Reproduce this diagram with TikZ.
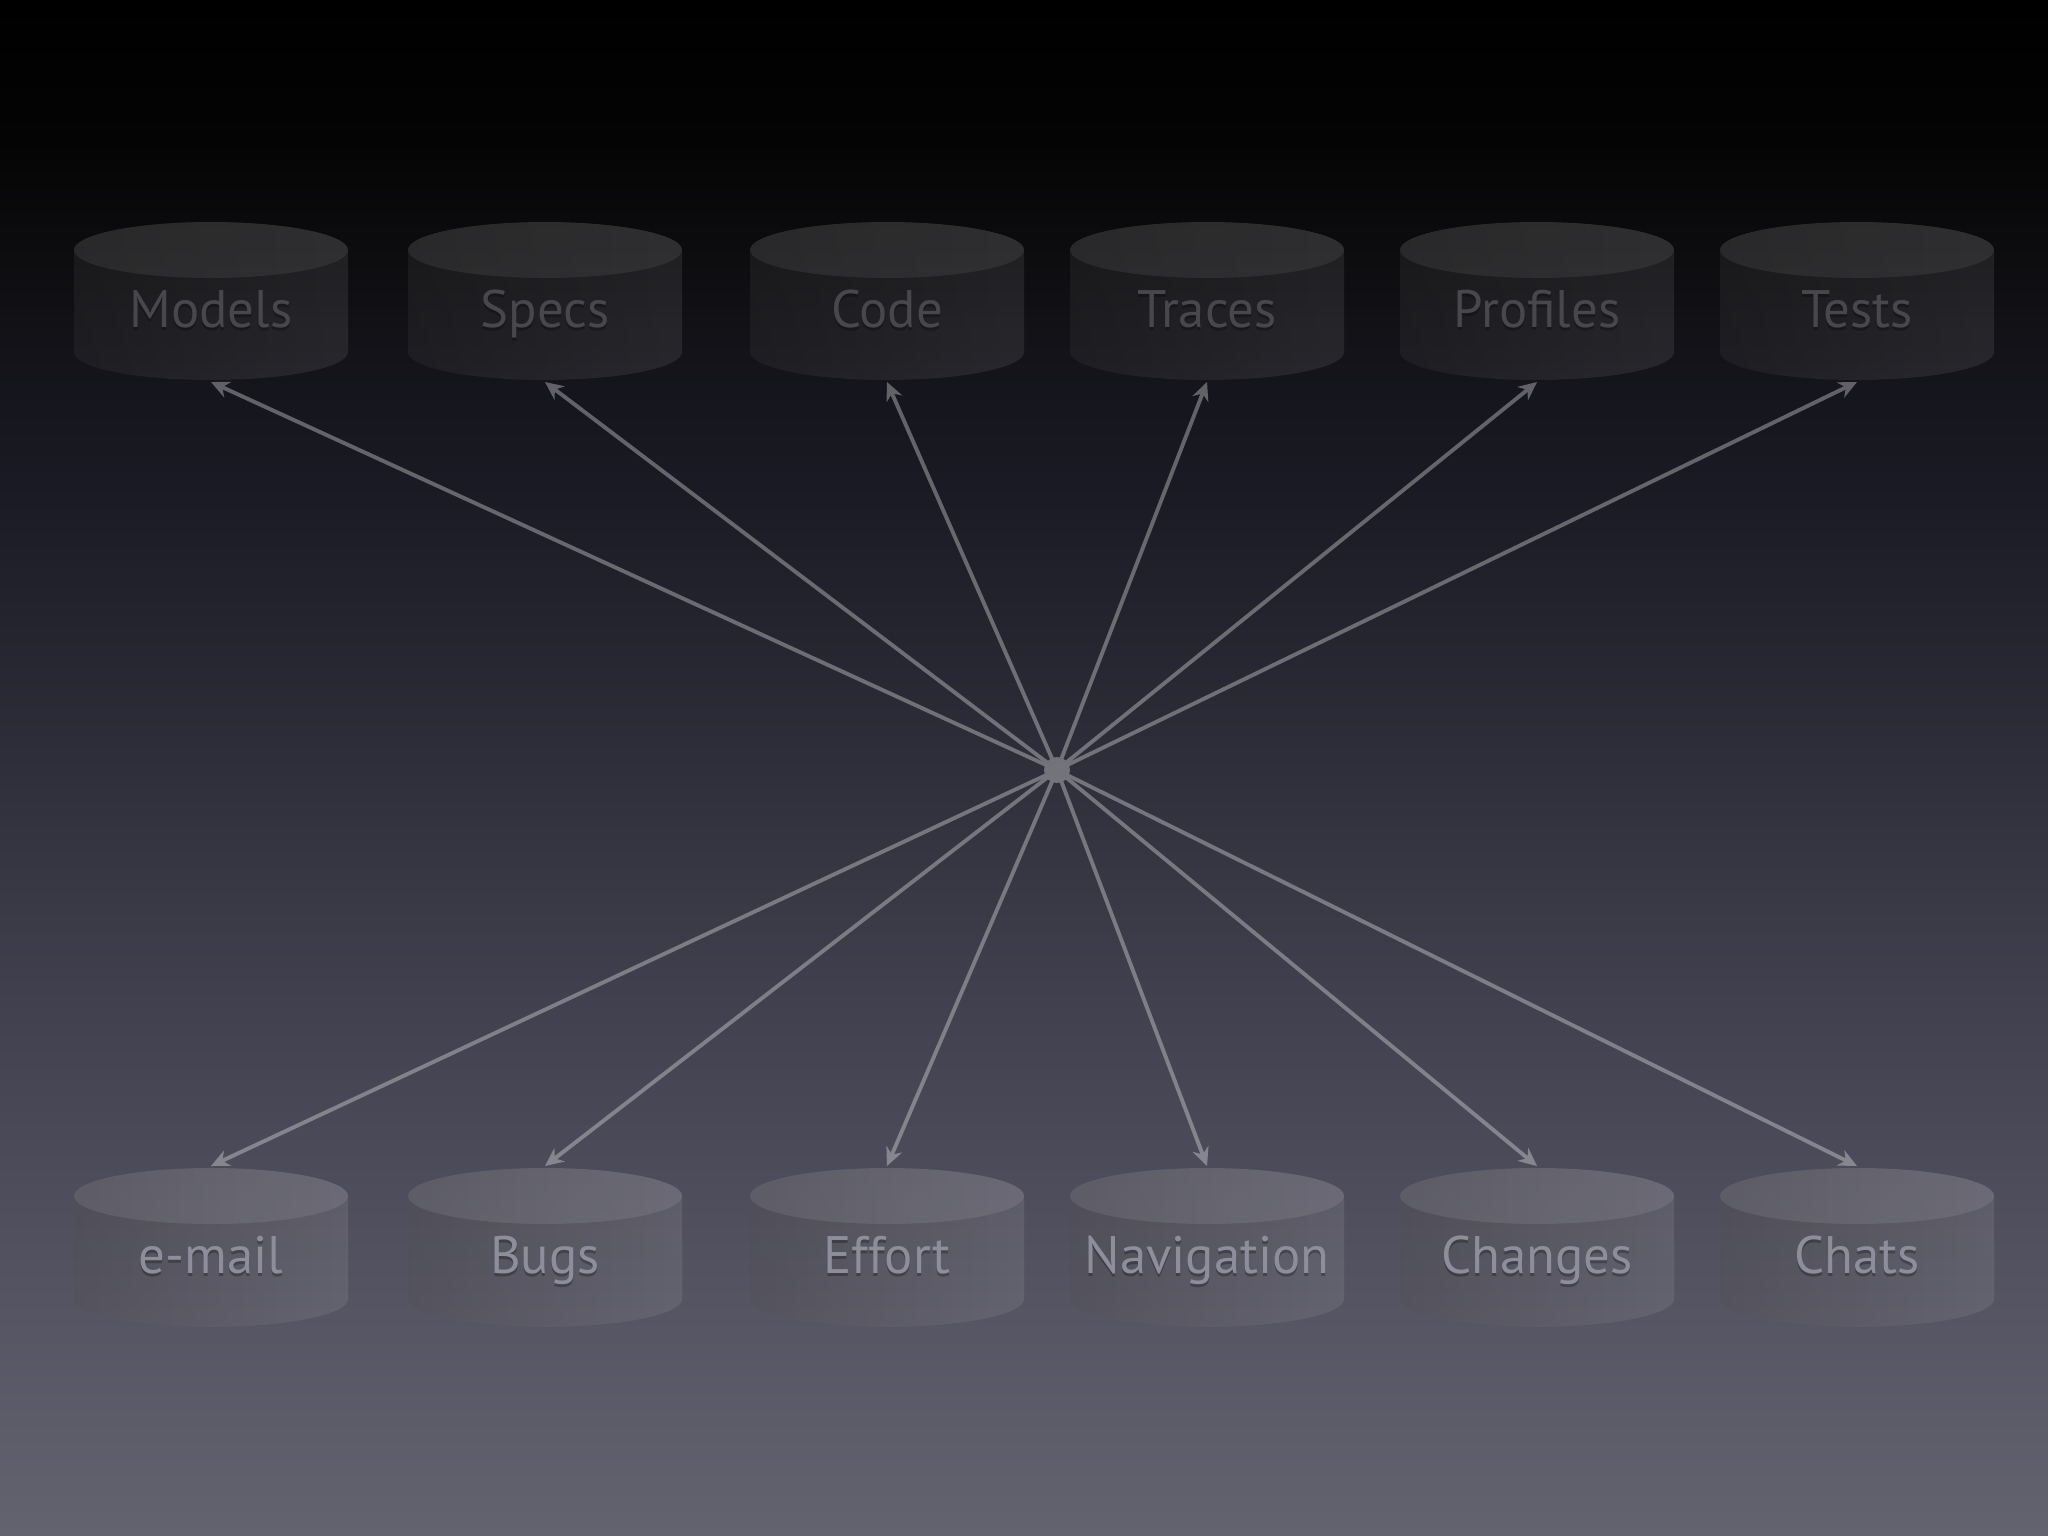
\documentclass[tikz,border=0pt]{standalone}
\usepackage{fontspec}
\setmainfont{PT Sans}
\usetikzlibrary{arrows.meta,fadings}
\definecolor{bgz}{HTML}{000000}
\definecolor{bga}{HTML}{040404}
\definecolor{bgb}{HTML}{101014}
\definecolor{bgc}{HTML}{1b1b26}
\definecolor{bgd}{HTML}{2f2f3b}
\definecolor{bge}{HTML}{41404e}
\definecolor{bgf}{HTML}{52515f}
\definecolor{bgg}{HTML}{63626f}
\definecolor{toptext}{HTML}{47474c}
\definecolor{bottext}{HTML}{8e8d9b}
\pgfdeclareverticalshading{bgshade}{100bp}{color(0bp)=(bgg); color(25bp)=(bgg); color(34.31bp)=(bgf); color(42.45bp)=(bge); color(49.93bp)=(bgd); color(58.72bp)=(bgc); color(65.23bp)=(bgb); color(70.44bp)=(bga); color(75bp)=(bgz); color(100bp)=(bgz)}
\tikzfading[name=cyldark, left color=transparent!55, right color=transparent!100]
\tikzset{
  labtext/.style={anchor=base, font=\fontsize{15pt}{18pt}\selectfont, inner sep=0pt},
  toplab/.style={labtext, text=toptext},
  botlab/.style={labtext, text=bottext},
  labshadow/.style={labtext, text=black, opacity=0.25},
  conn/.style={draw=white, line width=1.1pt, -{Stealth[length=5.2pt,width=4.8pt]}},
  hubdot/.style={circle, fill=white, inner sep=0pt, minimum size=0.26cm}
}
\begin{document}
\begin{tikzpicture}[x=0.01cm,y=-0.01cm]
\useasboundingbox (0,0) rectangle (2048,1536);
\shade[shading=bgshade] (0,0) rectangle (2048,1536);
% top row
\foreach \nm/\lab/\x in {Models/Models/211, Specs/Specs/545, Code/Code/887, Traces/Traces/1207, Profiles/Profiles/1537, Tests/Tests/1857}{
  \fill[white, fill opacity=0.085] (\x-137,250) -- (\x-137,352) arc[start angle=180,end angle=0,x radius=137,y radius=28] -- (\x+137,250) arc[start angle=0,end angle=-180,x radius=137,y radius=28] -- cycle;
  \fill[black, fill opacity=0.5, path fading=cyldark] (\x-137,250) -- (\x-137,352) arc[start angle=180,end angle=0,x radius=137,y radius=28] -- (\x+137,250) arc[start angle=0,end angle=-180,x radius=137,y radius=28] -- cycle;
  \fill[white, fill opacity=0.07] (\x,250) ellipse[x radius=137,y radius=28];
  \node[labshadow] at (\x,330) {\lab};
  \node[toplab] (\nm) at (\x,327) {\lab};
  \coordinate (\nm-end) at (\x,382);
}
% bottom row
\foreach \nm/\lab/\x in {email/e-mail/211, Bugs/Bugs/545, Effort/Effort/887, Navigation/Navigation/1207, Changes/Changes/1537, Chats/Chats/1857}{
  \fill[white, fill opacity=0.085] (\x-137,1196) -- (\x-137,1299) arc[start angle=180,end angle=0,x radius=137,y radius=28] -- (\x+137,1196) arc[start angle=0,end angle=-180,x radius=137,y radius=28] -- cycle;
  \fill[black, fill opacity=0.35, path fading=cyldark] (\x-137,1196) -- (\x-137,1299) arc[start angle=180,end angle=0,x radius=137,y radius=28] -- (\x+137,1196) arc[start angle=0,end angle=-180,x radius=137,y radius=28] -- cycle;
  \fill[white, fill opacity=0.09] (\x,1196) ellipse[x radius=137,y radius=28];
  \node[labshadow] at (\x,1276) {\lab};
  \node[botlab] (\nm) at (\x,1273) {\lab};
  \coordinate (\nm-end) at (\x,1166);
}
% connectors
\begin{scope}[transparency group, opacity=0.33]
  \node[hubdot] (hub) at (1057,770) {};
  \foreach \nm in {Models,Specs,Code,Traces,Profiles,Tests,email,Bugs,Effort,Navigation,Changes,Chats}{
    \draw[conn] (hub.center) -- (\nm-end);
  }
\end{scope}
\end{tikzpicture}
\end{document}
